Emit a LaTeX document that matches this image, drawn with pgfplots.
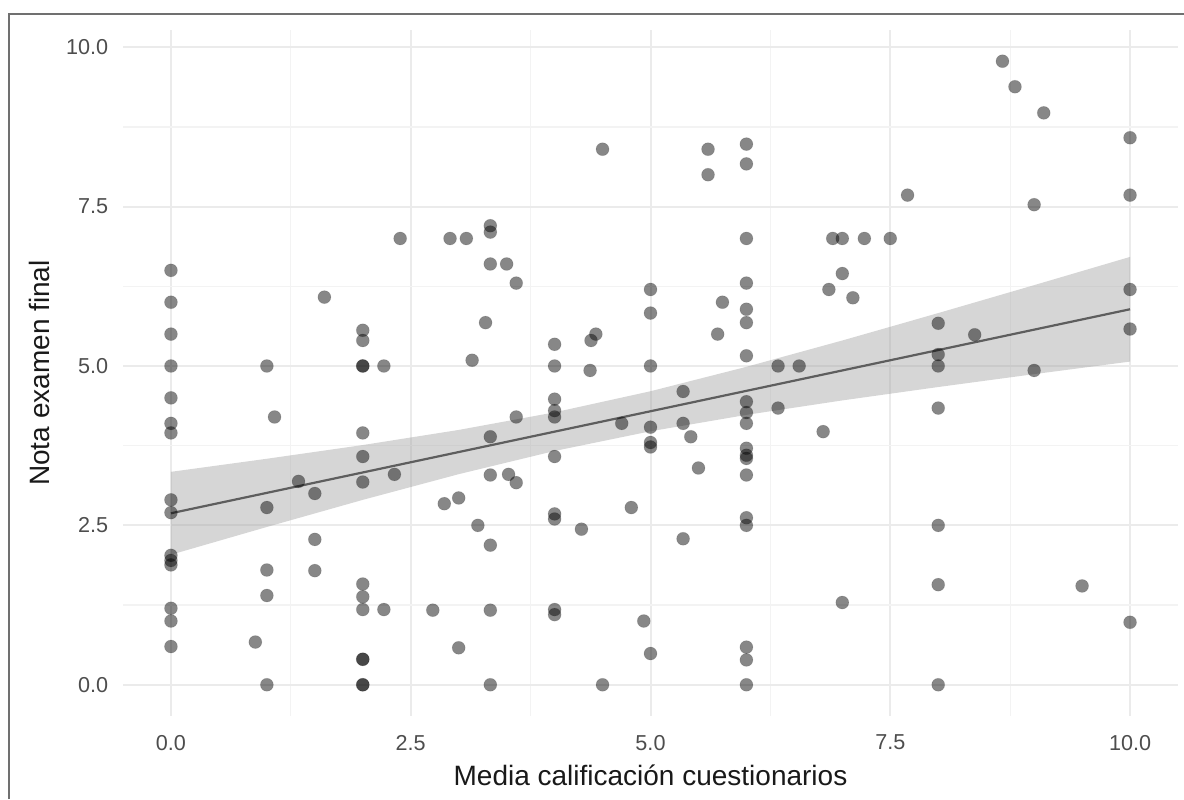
\documentclass[border=0pt]{standalone}
\usepackage{pgfplots}
\pgfplotsset{compat=1.18}
\usepackage{fontspec}
\setmainfont{Liberation Sans}
\definecolor{ticktxt}{HTML}{4D4D4D}
\definecolor{gridmaj}{HTML}{EBEBEB}
\definecolor{gridmin}{HTML}{F3F3F3}
\definecolor{framecol}{HTML}{707070}
\definecolor{bandfill}{HTML}{999999}
\definecolor{linecol}{HTML}{5E5E5E}

\pgfplotstableread{
x y
0 6.5
0 6.0
0 5.5
0 5.0
0 4.5
0 4.1
0 3.95
0 2.9
0 2.7
0 2.03
0 1.95
0 1.88
0 1.2
0 1.0
0 0.6
0.88 0.67
1 5.0
1 2.78
1 1.8
1 1.4
1 0
1.08 4.2
1.33 3.19
1.5 3.0
1.5 2.28
1.5 1.79
1.6 6.08
2 5.56
2 5.4
2 5.0
2 5.0
2 3.95
2 3.58
2 3.18
2 1.58
2 1.38
2 1.18
2 0.4
2 0.4
2 0
2 0
2.22 5.0
2.22 1.18
2.33 3.3
2.39 7.0
2.73 1.17
2.85 2.84
2.91 7.0
3.0 2.93
3.0 0.58
3.08 7.0
3.14 5.09
3.2 2.5
3.28 5.68
3.33 7.2
3.33 7.1
3.33 6.6
3.33 3.89
3.33 3.29
3.33 2.19
3.33 1.17
3.33 0
3.5 6.6
3.52 3.3
3.6 6.3
3.6 4.2
3.6 3.17
4 5.34
4 5.0
4 4.48
4 4.3
4 4.2
4 3.58
4 2.68
4 2.6
4 1.18
4 1.1
4.28 2.44
4.37 4.93
4.38 5.4
4.43 5.5
4.5 8.4
4.5 0
4.7 4.1
4.8 2.78
4.93 1.0
5 6.2
5 5.83
5 5.0
5 4.04
5 3.8
5 3.73
5 0.49
5.34 4.6
5.34 4.1
5.34 2.29
5.42 3.89
5.5 3.4
5.6 8.4
5.6 8.0
5.7 5.5
5.75 6.0
6 8.48
6 8.17
6 7.0
6 6.3
6 5.89
6 5.68
6 5.16
6 4.44
6 4.27
6 4.1
6 3.71
6 3.6
6 3.55
6 3.29
6 2.62
6 2.5
6 0.59
6 0.39
6 0
6.33 5.0
6.33 4.34
6.55 5.0
6.8 3.97
6.86 6.2
6.9 7.0
7.0 7.0
7.0 6.45
7.0 1.29
7.11 6.07
7.23 7.0
7.5 7.0
7.68 7.68
8 5.67
8 5.18
8 5.0
8 4.34
8 2.5
8 1.57
8 0
8.38 5.49
8.67 9.78
8.8 9.38
9.0 7.53
9.0 4.93
9.1 8.97
9.5 1.55
10 8.58
10 7.68
10 6.2
10 5.58
10 0.98
}\pointsdata

\begin{document}
\begin{tikzpicture}
\useasboundingbox (-61.5pt,-41.5pt) rectangle (530.5pt,358pt);
\draw[framecol, line width=0.75pt] (-57pt,-41.5pt) -- (-57pt,351pt) -- (530.5pt,351pt);
\begin{axis}[
  name=ax,
  at={(0,0)}, anchor=south west,
  scale only axis, width=527.5pt, height=343pt,
  xmin=-0.5, xmax=10.5, ymin=-0.49, ymax=10.27,
  axis line style={draw=none},
  tick style={draw=none},
  major tick length=0pt, minor tick length=0pt,
  xtick={0,2.5,5,7.5,10}, ytick={0,2.5,5,7.5,10},
  xticklabels={0.0,2.5,5.0,7.5,10.0},
  yticklabels={0.0,2.5,5.0,7.5,10.0},
  minor xtick={1.25,3.75,6.25,8.75},
  minor ytick={1.25,3.75,6.25,8.75},
  grid=both,
  major grid style={gridmaj, line width=1pt},
  minor grid style={gridmin, line width=0.6pt},
  tick label style={font=\fontsize{10.8}{13}\selectfont, text=ticktxt},
  xticklabel style={yshift=-6pt},
  yticklabel style={xshift=-3.9pt},
  xlabel={Media calificación cuestionarios},
  ylabel={Nota examen final},
  every axis x label/.style={at={(axis description cs:0.5,-0.1006)}, anchor=base, font=\fontsize{14}{17}\selectfont, text=black!90},
  every axis y label/.style={at={(axis description cs:-0.0692,0.5)}, anchor=base, rotate=90, font=\fontsize{14}{17}\selectfont, text=black!90},
]
\addplot[only marks, mark=*, mark size=3.25pt, mark options={solid, draw=black, draw opacity=0.1, line width=0.4pt, fill=black, fill opacity=0.47}] table[x=x, y=y] {\pointsdata};
\addplot[draw=none, fill=bandfill, fill opacity=0.4] coordinates {
(0,2.04) (1,2.475) (2,2.90) (3,3.303) (4,3.667) (5,3.976) (6,4.233) (7,4.46) (8,4.67) (9,4.872) (10,5.069)
(10,6.711) (9,6.268) (8,5.83) (7,5.40) (6,4.987) (5,4.604) (4,4.273) (3,3.997) (2,3.76) (1,3.545) (0,3.34)
};
\addplot[linecol, line width=1.1pt] coordinates {(0,2.69) (10,5.89)};
\end{axis}
\end{tikzpicture}
\end{document}
